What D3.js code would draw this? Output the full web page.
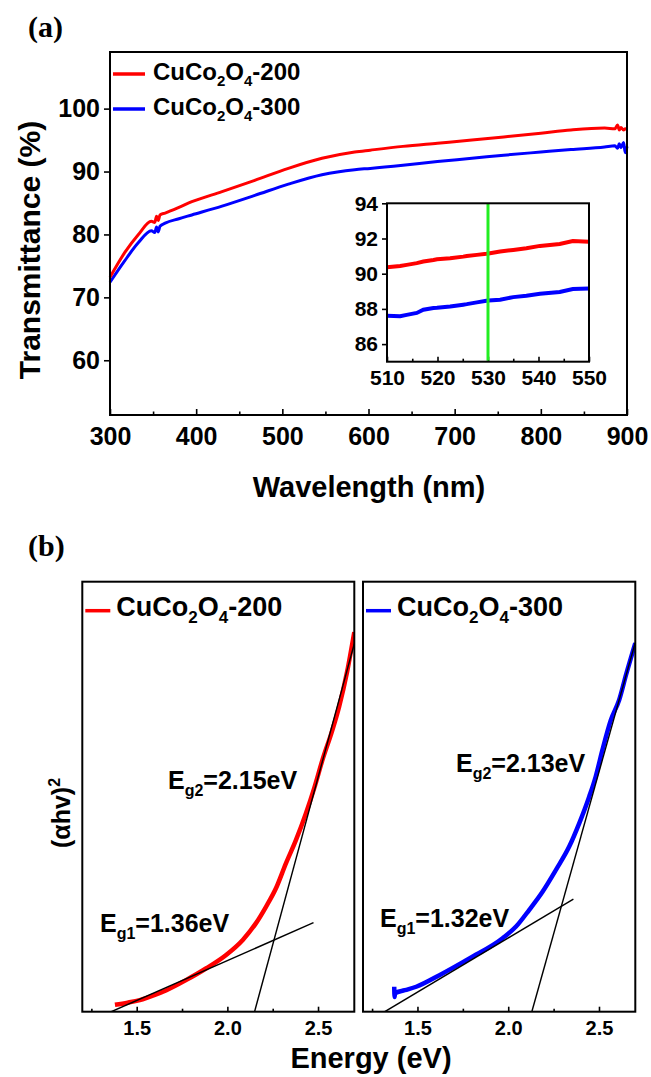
<!DOCTYPE html>
<html>
<head>
<meta charset="utf-8">
<script src="https://cdn.jsdelivr.net/npm/d3@7"></script>
<style>
  body { margin: 0; background: #fff; }
  text { font-family: "Liberation Sans", Arial, sans-serif; font-weight: bold; fill: #000; }
  .serif { font-family: "Liberation Serif", "Times New Roman", serif; }
</style>
</head>
<body>
<script>
// ---------- (a) transmittance spectra ----------
const wavelength = [300, 317, 333, 348, 352, 354, 356, 358, 364, 380, 395, 430, 468, 507, 546, 584, 602, 640, 680, 720, 757, 800, 835, 874, 886, 889, 891, 893, 896, 898, 900];
const trans200   = [73.2, 77.1, 80.0, 82.1, 81.9, 82.9, 82.2, 83.1, 83.4, 84.3, 85.2, 86.8, 88.6, 90.5, 92.1, 93.1, 93.4, 94.0, 94.5, 95.0, 95.5, 96.1, 96.6, 96.9, 96.8, 97.4, 96.6, 97.0, 96.6, 96.8, 96.7];
const trans300   = [72.4, 75.8, 78.7, 80.6, 80.3, 81.2, 80.4, 81.3, 81.8, 82.5, 83.1, 84.5, 86.2, 88.0, 89.5, 90.3, 90.5, 91.0, 91.6, 92.1, 92.6, 93.1, 93.5, 93.9, 94.1, 93.7, 94.4, 93.8, 94.6, 93.0, 94.0];
const xTicksA = [300, 400, 500, 600, 700, 800, 900];
const xMinorA = [350, 450, 550, 650, 750, 850];
const yTicksA = [60, 70, 80, 90, 100];

// inset: 510-550 nm close-up
const insetWavelength = [510, 512.6, 513.9, 515.9, 517.2, 519.2, 519.9, 522.5, 525.1, 525.8, 527.8, 529.7, 530.1, 532.4, 535.0, 537.6, 540.3, 544.2, 546.8, 550];
const insetTrans200   = [90.37, 90.44, 90.50, 90.60, 90.69, 90.78, 90.82, 90.88, 90.97, 91.01, 91.07, 91.13, 91.15, 91.26, 91.35, 91.45, 91.58, 91.69, 91.86, 91.82];
const insetTrans300   = [87.61, 87.58, 87.66, 87.77, 87.95, 88.05, 88.06, 88.14, 88.24, 88.27, 88.37, 88.46, 88.48, 88.52, 88.67, 88.75, 88.86, 88.96, 89.13, 89.16];
const insetXTicks = [510, 520, 530, 540, 550];
const insetXMinor = [515, 525, 535, 545];
const insetYTicks = [86, 88, 90, 92, 94];
const markerWavelength = 530;

// ---------- (b) Tauc plots ----------
const energy200 = [1.38, 1.45, 1.517, 1.60, 1.664, 1.774, 1.884, 1.993, 2.085, 2.158, 2.213, 2.268, 2.323, 2.378, 2.433, 2.479, 2.524, 2.579, 2.616, 2.66, 2.70];
const tauc200   = [1.6, 2.1, 2.7, 3.9, 5.0, 7.4, 10.1, 13.2, 16.7, 20.6, 24.4, 28.7, 34.5, 39.9, 46.1, 52.0, 58.5, 65.5, 70.9, 79.0, 88.3];
const energy300 = [1.372, 1.374, 1.376, 1.43, 1.493, 1.621, 1.786, 1.969, 2.043, 2.116, 2.189, 2.263, 2.336, 2.391, 2.446, 2.482, 2.519, 2.565, 2.611, 2.65, 2.70];
const tauc300   = [5.8, 3.4, 4.3, 5.0, 5.8, 8.5, 12.4, 17.1, 19.8, 23.7, 27.9, 33.0, 38.4, 43.8, 50.0, 54.7, 60.9, 67.8, 72.5, 78.5, 85.7];
// linear extrapolations: [energy, value] end points
const fitLow200  = [[1.36, 0], [2.475, 20.7]];
const fitHigh200 = [[2.15, 0], [2.70, 85.6]];
const fitLow300  = [[1.32, 0], [2.359, 26.2]];
const fitHigh300 = [[2.13, 0], [2.70, 85.9]];
const gapLabels200 = { g1: "1.36", g2: "2.15" };
const gapLabels300 = { g1: "1.32", g2: "2.13" };
const xTicksB = [1.5, 2.0, 2.5];
const xMinorB = [1.25, 1.75, 2.25];

const RED = "#ff0000", BLUE = "#0000ff", GREEN = "#22ee22";

const svg = d3.select("body").append("svg")
  .attr("width", 651).attr("height", 1077);

// text with sub/superscripts; parts: [{t, sub?, sup?}]
function richText(parent, x, y, parts, size, anchor) {
  const t = parent.append("text")
    .attr("x", x).attr("y", y)
    .attr("font-size", size)
    .attr("text-anchor", anchor || "start");
  let shift = 0;
  parts.forEach(p => {
    const target = p.sub ? Math.round(size * 0.27) : p.sup ? -Math.round(size * 0.38) : 0;
    const ts = t.append("tspan").text(p.t).attr("dy", target - shift);
    if (p.sub || p.sup) ts.attr("font-size", Math.round(size * 0.64));
    shift = target;
  });
  return t;
}

function formula(suffix) {
  return [{t: "CuCo"}, {t: "2", sub: true}, {t: "O"}, {t: "4", sub: true}, {t: "-" + suffix}];
}

function styleAxis(g, fontSize) {
  g.select(".domain").remove();
  g.selectAll(".tick line").attr("stroke", "#000").attr("stroke-width", 1.6);
  g.selectAll(".tick text").attr("font-size", fontSize)
    .attr("font-family", '"Liberation Sans", Arial, sans-serif')
    .attr("font-weight", "bold").attr("fill", "#000");
}

// ================= panel (a) =================
svg.append("text").attr("class", "serif").attr("x", 28).attr("y", 37)
  .attr("font-size", 30).text("(a)");

const xA = d3.scaleLinear().domain([300, 900]).range([110, 627]);
const yA = d3.scaleLinear().domain([51.3, 109]).range([415, 52]);

const gA = svg.append("g");
gA.append("g").attr("transform", "translate(0,415)")
  .call(d3.axisBottom(xA).tickValues(xTicksA).tickSize(-6).tickPadding(12).tickFormat(d3.format("d")))
  .call(g => styleAxis(g, 25));
gA.append("g").attr("transform", "translate(0,415)")
  .call(d3.axisBottom(xA).tickValues(xMinorA).tickSize(-3.5).tickFormat(""))
  .call(g => styleAxis(g, 25));
gA.append("g").attr("transform", "translate(110,0)")
  .call(d3.axisLeft(yA).tickValues(yTicksA).tickSize(6).tickPadding(4).tickFormat(d3.format("d")))
  .call(g => styleAxis(g, 25));

const lineA = d3.line().curve(d3.curveMonotoneX).x(d => xA(d[0])).y(d => yA(d[1]));
gA.append("path").datum(d3.zip(wavelength, trans300))
  .attr("d", lineA).attr("fill", "none").attr("stroke", BLUE).attr("stroke-width", 3);
gA.append("path").datum(d3.zip(wavelength, trans200))
  .attr("d", lineA).attr("fill", "none").attr("stroke", RED).attr("stroke-width", 3);

gA.append("rect").attr("x", 110).attr("y", 52).attr("width", 517).attr("height", 363)
  .attr("fill", "none").attr("stroke", "#000").attr("stroke-width", 2);

// legend
[[RED, "200", 74, 80], [BLUE, "300", 109, 115]].forEach(([c, s, ly, ty]) => {
  gA.append("line").attr("x1", 113).attr("x2", 145).attr("y1", ly).attr("y2", ly)
    .attr("stroke", c).attr("stroke-width", 3.5);
  richText(gA, 153, ty, formula(s), 24);
});

gA.append("text").attr("transform", "translate(40,250) rotate(-90)")
  .attr("text-anchor", "middle").attr("font-size", 30).text("Transmittance (%)");
gA.append("text").attr("x", 369).attr("y", 497)
  .attr("text-anchor", "middle").attr("font-size", 29).text("Wavelength (nm)");

// inset
const xI = d3.scaleLinear().domain([510, 550]).range([387, 589]);
const yI = d3.scaleLinear().domain([85, 94]).range([361.7, 203.3]);
const gI = svg.append("g");
gI.append("g").attr("transform", "translate(0,361.7)")
  .call(d3.axisBottom(xI).tickValues(insetXTicks).tickSize(-5).tickPadding(8).tickFormat(d3.format("d")))
  .call(g => styleAxis(g, 21));
gI.append("g").attr("transform", "translate(0,361.7)")
  .call(d3.axisBottom(xI).tickValues(insetXMinor).tickSize(-3).tickFormat(""))
  .call(g => styleAxis(g, 21));
gI.append("g").attr("transform", "translate(387,0)")
  .call(d3.axisLeft(yI).tickValues(insetYTicks).tickSize(5).tickPadding(4).tickFormat(d3.format("d")))
  .call(g => styleAxis(g, 21));

const lineI = d3.line().x(d => xI(d[0])).y(d => yI(d[1]));
gI.append("path").datum(d3.zip(insetWavelength, insetTrans200))
  .attr("d", lineI).attr("fill", "none").attr("stroke", RED).attr("stroke-width", 4);
gI.append("path").datum(d3.zip(insetWavelength, insetTrans300))
  .attr("d", lineI).attr("fill", "none").attr("stroke", BLUE).attr("stroke-width", 4);
gI.append("line").attr("x1", xI(markerWavelength)).attr("x2", xI(markerWavelength))
  .attr("y1", yI(94)).attr("y2", yI(85) - 1)
  .attr("stroke", GREEN).attr("stroke-width", 3);
gI.append("rect").attr("x", 387).attr("y", 203.3).attr("width", 202).attr("height", 158.4)
  .attr("fill", "none").attr("stroke", "#000").attr("stroke-width", 2);

// ================= panel (b) =================
svg.append("text").attr("class", "serif").attr("x", 28).attr("y", 556)
  .attr("font-size", 30).text("(b)");

const yB = d3.scaleLinear().domain([0, 100]).range([1011.7, 581.7]);

function taucPanel(x0, x1, energy, tauc, color, suffix, fitLow, fitHigh, labels, pos) {
  const x = d3.scaleLinear().domain([1.2, 2.7]).range([x0, x1]);
  const g = svg.append("g");
  const clipId = "clip" + suffix;
  g.append("clipPath").attr("id", clipId).append("rect")
    .attr("x", x0).attr("y", 581.7).attr("width", x1 - x0).attr("height", 430);

  g.append("g").attr("transform", "translate(0,1011.7)")
    .call(d3.axisBottom(x).tickValues(xTicksB).tickSize(-5).tickPadding(9).tickFormat(d3.format(".1f")))
    .call(a => styleAxis(a, 20));
  g.append("g").attr("transform", "translate(0,1011.7)")
    .call(d3.axisBottom(x).tickValues(xMinorB).tickSize(-3).tickFormat(""))
    .call(a => styleAxis(a, 20));

  const curve = d3.line().curve(d3.curveMonotoneX).x(d => x(d[0])).y(d => yB(d[1]));
  const line = d3.line().x(d => x(d[0])).y(d => yB(d[1]));
  const plot = g.append("g").attr("clip-path", `url(#${clipId})`);
  plot.append("path").datum(d3.zip(energy, tauc)).attr("d", curve)
    .attr("fill", "none").attr("stroke", color).attr("stroke-width", 4.5)
    .attr("stroke-linejoin", "round");
  [fitLow, fitHigh].forEach(f => plot.append("path").datum(f).attr("d", line)
    .attr("fill", "none").attr("stroke", "#000").attr("stroke-width", 1.4));

  g.append("rect").attr("x", x0).attr("y", 581.7).attr("width", x1 - x0).attr("height", 430)
    .attr("fill", "none").attr("stroke", "#000").attr("stroke-width", 2);

  g.append("line").attr("x1", x0 + 3).attr("x2", x0 + 28).attr("y1", 610.7).attr("y2", 610.7)
    .attr("stroke", color).attr("stroke-width", 3.5);
  richText(g, x0 + 34, 616, formula(suffix), 27);

  richText(g, pos.g2[0], pos.g2[1], [{t: "E"}, {t: "g2", sub: true}, {t: "=" + labels.g2 + "eV"}], 25);
  richText(g, pos.g1[0], pos.g1[1], [{t: "E"}, {t: "g1", sub: true}, {t: "=" + labels.g1 + "eV"}], 25);
}

taucPanel(82.3, 354.3, energy200, tauc200, RED, "200", fitLow200, fitHigh200, gapLabels200,
  { g2: [168, 789], g1: [100, 932] });
taucPanel(363, 635.3, energy300, tauc300, BLUE, "300", fitLow300, fitHigh300, gapLabels300,
  { g2: [456, 772], g1: [380, 927] });

richText(svg.append("g").attr("transform", "translate(70,813) rotate(-90)"), 0, 0,
  [{t: "(αhv)"}, {t: "2", sup: true}], 25, "middle");
svg.append("text").attr("x", 371).attr("y", 1068)
  .attr("text-anchor", "middle").attr("font-size", 29).text("Energy (eV)");
</script>
</body>
</html>
